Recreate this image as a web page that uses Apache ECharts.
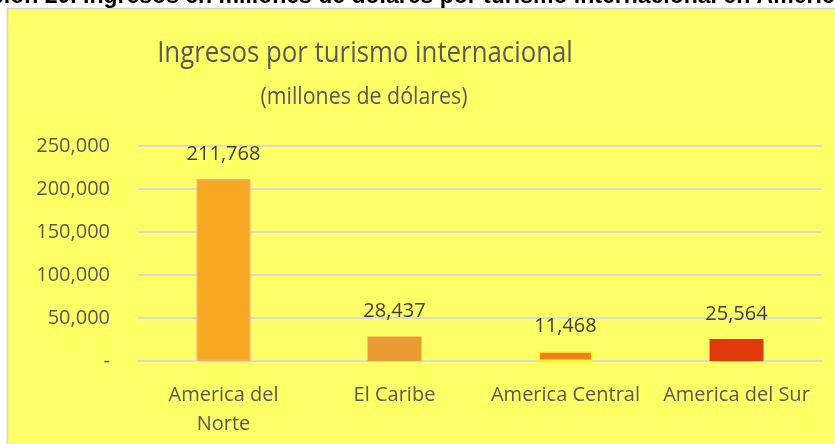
<!DOCTYPE html>
<html>
<head>
<meta charset="utf-8">
<script src="https://cdn.jsdelivr.net/npm/echarts@6/dist/echarts.min.js"></script>
<style>
  html, body { margin: 0; padding: 0; background: #fff; }
  #chart { width: 835px; height: 444px; }
</style>
</head>
<body>
<div id="chart"></div>
<script>
// datos del grafico
const regiones = ['America del\nNorte', 'El Caribe', 'America Central', 'America del Sur'];
const ingresos = [211768, 28437, 11468, 25564];
const colores = ['#F6A822', '#E99B36', '#ED7D31', '#E13A0A'];
const bordes = ['#F2A98C', '#E99B36', '#FFFF00', '#E13A0A'];

const yMax = 250000;
const yPaso = 50000;

function fmtMiles(v) {
    if (v === 0) return '-';
    return v.toString().replace(/\B(?=(\d{3})+(?!\d))/g, ',');
}

let myChart = echarts.init(document.getElementById('chart'));
let option = {
    backgroundColor: '#fff',
    animation: false,
    textStyle: { fontFamily: 'Open Sans' },
    graphic: [
        {
            type: 'rect',
            shape: { x: 7.5, y: 8.5, width: 840, height: 450 },
            style: { fill: '#FFFF66', stroke: '#D4D4D4', lineWidth: 1.5 },
            z: -10
        },
        {
            // encabezado cortado arriba
            type: 'text',
            x: -78, y: 8,
            style: {
                text: 'Ilustración 20. Ingresos en millones de dólares por turismo internacional en América',
                font: 'bold 23px "Liberation Sans"',
                fill: '#000',
                verticalAlign: 'bottom'
            }
        },
        {
            // titulo (algo estrecho, como Calibri)
            type: 'text',
            x: 365, y: 53,
            scaleX: 0.86,
            style: {
                text: 'Ingresos por turismo internacional',
                font: '30px "Open Sans"',
                fill: '#595959',
                align: 'center',
                verticalAlign: 'middle'
            }
        },
        {
            type: 'text',
            x: 364, y: 97,
            scaleX: 0.93,
            style: {
                text: '(millones de dólares)',
                font: '23px "Open Sans"',
                fill: '#595959',
                align: 'center',
                verticalAlign: 'middle'
            }
        }
    ],
    grid: { left: 138, right: 13, top: 146, bottom: 83 },
    xAxis: {
        type: 'category',
        data: regiones,
        axisLine: { show: true, lineStyle: { color: '#D9D9D9', width: 2 } },
        axisTick: { show: false },
        axisLabel: { color: '#595959', fontSize: 20, lineHeight: 29, margin: 20, interval: 0 }
    },
    yAxis: {
        type: 'value',
        min: 0,
        max: yMax,
        interval: yPaso,
        axisLine: { show: false },
        axisTick: { show: false },
        splitLine: { lineStyle: { color: '#D9D9D9', width: 2 } },
        axisLabel: { color: '#595959', fontSize: 20, margin: 28, formatter: fmtMiles }
    },
    series: [{
        type: 'bar',
        barWidth: 54,
        data: ingresos.map((v, i) => ({
            value: v,
            itemStyle: { color: colores[i], borderColor: bordes[i], borderWidth: 1.5 }
        })),
        label: {
            show: true,
            position: 'top',
            distance: 15,
            color: '#404040',
            fontSize: 20,
            formatter: p => fmtMiles(p.value)
        }
    }]
};
myChart.setOption(option);
</script>
</body>
</html>
